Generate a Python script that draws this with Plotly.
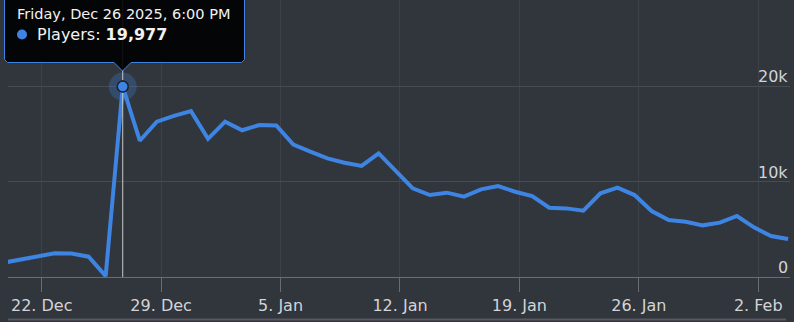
import pandas as pd
import plotly.graph_objects as go

# ---- data ----
dates = pd.date_range("2025-12-19 18:00", "2026-02-03 18:00", freq="D")
players = [1500, 1850, 2170, 2490, 2470, 2130, 100, 19977, 14300, 16300,
           16900, 17400, 14500, 16300, 15400, 15950, 15900, 13900, 13150, 12450,
           11990, 11650, 12980, 11090, 9310, 8600, 8850, 8430, 9200, 9550,
           8950, 8500, 7270, 7200, 6960, 8780, 9370, 8600, 6925, 5980,
           5800, 5420, 5700, 6400, 5210, 4300, 3990]
tick_dates = ["2025-12-22", "2025-12-29", "2026-01-05", "2026-01-12",
              "2026-01-19", "2026-01-26", "2026-02-02"]
tick_labels = ["22. Dec", "29. Dec", "5. Jan", "12. Jan", "19. Jan", "26. Jan", "2. Feb"]
y_ticks = [0, 10000, 20000]
y_labels = ["0", "10k", "20k"]
hover_idx = 7
tooltip_title = "Friday, Dec 26 2025, 6:00 PM"
series_name = "Players"

# ---- style ----
W, H = 794, 322
ML, MR, MT, MB = 8, 4, 0, 45
BG = "#31353c"
BLUE = "#3d84e3"
GRID = "#474b52"
VGRID = "#3d4148"
LABEL = "#d2d4d8"
FONT = "DejaVu Sans"

PW = W - ML - MR
PH = H - MT - MB


def px(x):
    return (x - ML) / PW


def py(y):
    return (H - MB - y) / PH


fig = go.Figure()
fig.add_trace(go.Scatter(x=dates, y=players, mode="lines",
                         line=dict(color=BLUE, width=4), hoverinfo="skip"))
# hover halo + marker
fig.add_trace(go.Scatter(x=[dates[hover_idx]], y=[players[hover_idx]], mode="markers",
                         marker=dict(size=28, color="rgba(61,132,227,0.28)"),
                         hoverinfo="skip"))
fig.add_trace(go.Scatter(x=[dates[hover_idx]], y=[players[hover_idx]], mode="markers",
                         marker=dict(size=11, color=BLUE, line=dict(color="#1c1f24", width=1.5)),
                         hoverinfo="skip"))

hx = dates[hover_idx]
shapes = []
# crosshair (split around the marker)
shapes.append(dict(type="line", xref="x", yref="paper", x0=hx, x1=hx,
                   y0=py(0), y1=py(80), line=dict(color="#c8c8c8", width=1), layer="above"))
shapes.append(dict(type="line", xref="x", yref="paper", x0=hx, x1=hx,
                   y0=py(93), y1=py(H - MB), line=dict(color="#c8c8c8", width=1), layer="above"))
# tooltip box with pointer
L, R, T, B = 4.5, 244.5, -5, 62.5
r = 3
tipx, tipy = 122.5, 71
bl, br = 114, 131
pts = [(L, T), (R, T), (R, B - r), (R - r, B), (br, B), (tipx, tipy), (bl, B), (L + r, B), (L, B - r)]
path = "M " + " L ".join(f"{px(a):.5f},{py(b):.5f}" for a, b in pts) + " Z"
shapes.append(dict(type="path", xref="paper", yref="paper", path=path,
                   fillcolor="rgba(0,0,0,0.9)", line=dict(color=BLUE, width=1), layer="above"))
# bullet
cx, cy, cr = 22, 34.5, 5
shapes.append(dict(type="circle", xref="paper", yref="paper",
                   x0=px(cx - cr), x1=px(cx + cr), y0=py(cy + cr), y1=py(cy - cr),
                   fillcolor=BLUE, line=dict(width=0), layer="above"))
# navigator top line
shapes.append(dict(type="line", xref="paper", yref="paper", x0=0, x1=px(786),
                   y0=py(319.5), y1=py(319.5), line=dict(color="#56595f", width=2), layer="above"))

annotations = [
    dict(xref="paper", yref="paper", x=px(15), y=py(14), xanchor="left", yanchor="middle",
         text=tooltip_title, showarrow=False, font=dict(family=FONT, size=14.5, color="#f2f2f2")),
    dict(xref="paper", yref="paper", x=px(35), y=py(34.5), xanchor="left", yanchor="middle",
         text=f"{series_name}: <b>{players[hover_idx]:,}</b>", showarrow=False,
         font=dict(family=FONT, size=16, color="#f2f2f2")),
]
# y-axis labels, inside the plot on the right, above their gridlines
for v, t in zip(y_ticks, y_labels):
    annotations.append(dict(xref="paper", yref="y", x=px(790), y=v, xanchor="right",
                            yanchor="bottom", yshift=-2, text=t, showarrow=False,
                            font=dict(family=FONT, size=16, color=LABEL)))

y_top = (H - MB - MT) / 95.3 * 10000

fig.update_layout(
    width=W, height=H, margin=dict(l=ML, r=MR, t=MT, b=MB),
    paper_bgcolor=BG, plot_bgcolor=BG, showlegend=False,
    shapes=shapes, annotations=annotations,
    xaxis=dict(range=["2025-12-20 00:36", "2026-02-03 20:40"], tickmode="array",
               tickvals=tick_dates, ticktext=tick_labels, ticks="outside", ticklen=14,
               tickcolor="#6a6d72", tickwidth=1, showgrid=True, gridcolor=VGRID, gridwidth=1,
               showline=True, linecolor="#6a6d72", linewidth=1, zeroline=False,
               ticklabeloverflow="allow",
               tickfont=dict(family=FONT, size=16, color=LABEL), fixedrange=True),
    yaxis=dict(range=[0, y_top], side="right", tickmode="array", tickvals=y_ticks,
               showticklabels=False, showgrid=True,
               gridcolor=GRID, gridwidth=1, zeroline=False, showline=False, ticks="",
               fixedrange=True),
)

fig.write_html("out.html")
